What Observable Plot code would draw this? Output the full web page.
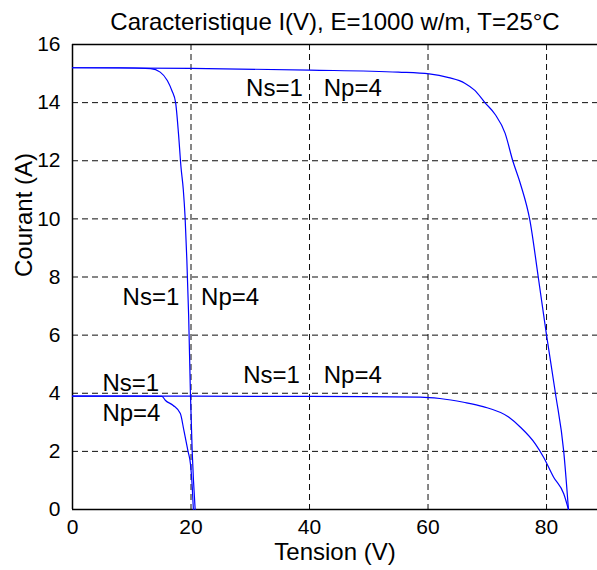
<!DOCTYPE html>
<html>
<head>
<meta charset="utf-8">
<script src="https://cdn.jsdelivr.net/npm/d3@7"></script>
<script src="https://cdn.jsdelivr.net/npm/@observablehq/plot@0.6"></script>
<style>
  html, body { margin: 0; padding: 0; background: white; }
</style>
</head>
<body>
<div id="chart"></div>
<script>
const titleText = "Caracteristique I(V), E=1000 w/m, T=25°C";
const xLabel = "Tension (V)";
const yLabel = "Courant (A)";
const xTicks = [0, 20, 40, 60, 80];
const yTicks = [0, 2, 4, 6, 8, 10, 12, 14, 16];

// Ns=1, Np=4 (high current, low voltage)
const vA = [0, 8, 13.2, 14.8, 16.0, 16.8, 17.4, 17.9, 18.3, 18.7, 19.0, 19.3, 19.6, 19.9, 20.2, 20.7];
const iA = [15.2, 15.2, 15.17, 15.05, 14.76, 14.4, 14.0, 12.9, 11.8, 11.0, 10.06, 8.57, 6.68, 4.0, 2.0, 0];
// high current, high voltage
const vB = [0, 20, 40, 55, 60.2, 63.5, 66.2, 67.9, 69.6, 71.3, 73.0, 74.3, 75.6, 77.2, 78.6, 80, 81.5, 82.9, 83.7];
const iB = [15.2, 15.18, 15.12, 15.05, 14.99, 14.86, 14.67, 14.42, 14.0, 13.6, 12.95, 12.0, 11.2, 9.94, 8.0, 6.0, 4.0, 2.0, 0];
// low current, low voltage
const vC = [0, 8, 15.1, 15.7, 17.0, 18.2, 18.8, 19.5, 19.9, 20.2, 20.4];
const iC = [3.9, 3.9, 3.89, 3.75, 3.58, 3.3, 2.72, 2.0, 1.58, 0.8, 0];
// low current, high voltage
const vD = [0, 20, 40, 58.7, 62, 66, 69.3, 73.6, 75.6, 78.1, 79.5, 81.2, 82.9, 83.7];
const iD = [3.9, 3.9, 3.89, 3.87, 3.82, 3.69, 3.54, 3.18, 2.83, 2.26, 1.80, 1.11, 0.54, 0];

const labelTexts = ["Ns=1", "Np=4", "Ns=1", "Np=4", "Ns=1", "Np=4", "Ns=1", "Np=4"];
const labelV = [29.3, 42.4, 8.45, 21.7, 5.05, 5.05, 28.8, 42.4];
const labelI = [14.49, 14.49, 7.30, 7.30, 4.34, 3.30, 4.62, 4.62];

const toRows = (v, i, s) => v.map((d, k) => ({V: d, I: i[k], s}));
const curves = [toRows(vA, iA, "A"), toRows(vB, iB, "B"), toRows(vC, iC, "C"), toRows(vD, iD, "D")];
const labels = labelTexts.map((t, k) => ({t, V: labelV[k], I: labelI[k]}));

const chart = Plot.plot({
  width: 597,
  height: 570,
  marginTop: 44,
  marginLeft: 72,
  marginRight: 0,
  marginBottom: 61,
  style: {fontFamily: "'Liberation Sans', Arial, sans-serif", fontSize: "21px", color: "black", background: "white", overflow: "visible"},
  x: {domain: [0, 88.6]},
  y: {domain: [0, 16]},
  marks: [
    Plot.gridX(xTicks.filter(d => d > 0), {stroke: "black", strokeOpacity: 0.95, strokeWidth: 1, strokeDasharray: "6,4"}),
    Plot.gridY(yTicks.filter(d => d > 0 && d < 16), {stroke: "black", strokeOpacity: 0.95, strokeWidth: 1, strokeDasharray: "6,4"}),
    Plot.axisX(xTicks, {tickSize: 0, tickPadding: 10, fontSize: 21, label: null}),
    Plot.axisY(yTicks, {tickSize: 0, tickPadding: 12, fontSize: 21, label: null}),
    Plot.ruleX([0], {stroke: "black", strokeWidth: 1.5}),
    Plot.ruleY([0, 16], {stroke: "black", strokeWidth: 1.5}),
    ...curves.map(c => Plot.line(c, {x: "V", y: "I", stroke: "#0000ff", strokeWidth: 1.2, curve: "monotone-x"})),
    Plot.text(labels, {x: "V", y: "I", text: "t", textAnchor: "start", lineAnchor: "middle", fontSize: 24, fill: "black"}),
    Plot.text([titleText], {frameAnchor: "top", dy: -22, fontSize: 24, fill: "black", lineAnchor: "middle", style: "letter-spacing:1.6px"}),
    Plot.text([xLabel], {frameAnchor: "bottom", dy: 43, fontSize: 24, fill: "black", lineAnchor: "middle"}),
    Plot.text([yLabel], {frameAnchor: "left", dx: -48, rotate: -90, fontSize: 24, fill: "black", lineAnchor: "middle"})
  ]
});
document.getElementById("chart").appendChild(chart);
</script>
</body>
</html>
